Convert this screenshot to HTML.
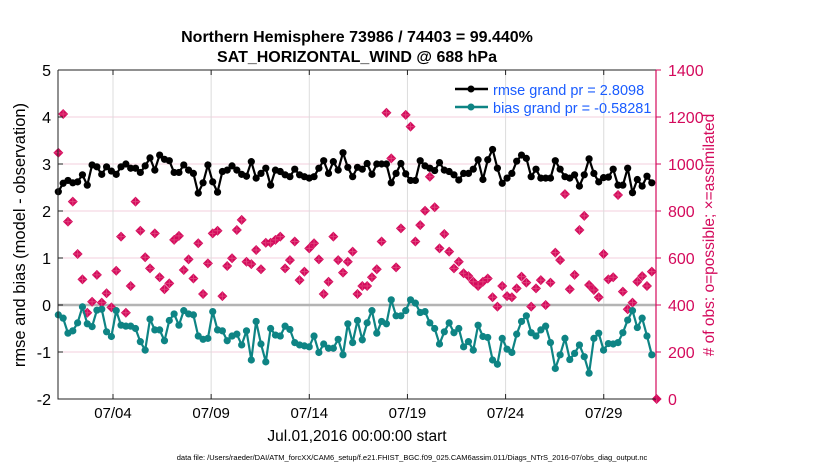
<!DOCTYPE html>
<html><head><meta charset="utf-8"><style>
body{margin:0;background:#fff;}
svg text{font-family:"Liberation Sans",Arial,sans-serif;}
</style></head><body>
<svg id="chart" width="830" height="470" xmlns="http://www.w3.org/2000/svg">
<text x="357" y="42" text-anchor="middle" font-size="16" font-weight="bold">Northern Hemisphere 73986 / 74403 = 99.440%</text>
<text x="357" y="62" text-anchor="middle" font-size="16" font-weight="bold">SAT_HORIZONTAL_WIND @ 688 hPa</text>
<g id="grid"></g>
<g id="marks"></g>
<g id="axes"></g>
<text transform="translate(25,235) rotate(-90)" text-anchor="middle" font-size="16.5">rmse and bias (model - observation)</text>
<text transform="translate(714,235) rotate(-90)" text-anchor="middle" font-size="15.5" fill="#d40a5c"># of obs: o=possible; ×=assimilated</text>
<text x="357" y="441" text-anchor="middle" font-size="15.5">Jul.01,2016 00:00:00 start</text>
<text x="412" y="460" text-anchor="middle" font-size="7.5">data file: /Users/raeder/DAI/ATM_forcXX/CAM6_setup/f.e21.FHIST_BGC.f09_025.CAM6assim.011/Diags_NTrS_2016-07/obs_diag_output.nc</text>
<g>
<line x1="455" y1="89" x2="488" y2="89" stroke="#000" stroke-width="2.5"/><circle cx="471" cy="89" r="3.5" fill="#000"/>
<text x="493" y="95" font-size="14.5" fill="#1a5cff">rmse grand pr = 2.8098</text>
<line x1="455" y1="107" x2="488" y2="107" stroke="#0e8484" stroke-width="2.5"/><circle cx="471" cy="107" r="3.5" fill="#0e8484"/>
<text x="493" y="113" font-size="14.5" fill="#1a5cff">bias grand pr = -0.58281</text>
</g>
</svg>
<script>
const rmse=[2.41,2.59,2.65,2.60,2.62,2.77,2.55,2.98,2.94,2.78,2.94,2.85,2.78,2.94,3.0,2.91,2.91,2.82,2.96,3.13,2.87,3.19,3.10,3.07,2.82,2.82,2.98,2.87,2.80,2.38,2.60,2.98,2.62,2.40,2.84,2.87,2.96,2.87,2.78,2.74,3.05,
2.70,2.80,2.91,2.55,2.87,2.84,2.77,2.73,2.89,2.77,2.73,2.70,2.73,2.91,3.07,2.80,3.05,2.87,3.24,2.93,2.73,2.93,2.89,3.01,2.78,3.0,3.0,3.0,2.60,2.80,3.01,2.79,2.65,2.65,3.07,2.96,2.91,2.86,3.03,2.87,2.84,2.77,2.66,2.80,
2.80,2.89,3.09,2.67,3.09,3.31,2.91,2.59,2.70,2.80,3.06,3.19,3.12,2.73,2.89,2.70,2.70,2.70,3.07,2.89,2.73,2.70,2.77,2.53,2.77,3.11,2.80,2.62,2.71,2.72,2.89,2.55,2.55,2.91,2.39,2.67,2.53,2.74,2.60];
const bias=[-0.21,-0.28,-0.60,-0.55,-0.38,-0.04,-0.40,-0.46,-0.11,-0.09,-0.57,-0.67,-0.12,-0.43,-0.45,-0.45,-0.50,-0.78,-0.96,-0.30,-0.53,-0.53,-0.76,-0.33,-0.19,-0.43,-0.12,-0.19,-0.21,-0.66,-0.73,-0.71,-0.14,-0.53,-0.55,-0.76,-0.66,-0.62,-0.85,-0.55,-1.17,
-0.35,-0.83,-1.21,-0.50,-0.64,-0.66,-0.45,-0.52,-0.80,-0.85,-0.87,-0.89,-0.66,-1.01,-0.83,-0.92,-0.92,-0.73,-1.06,-0.40,-0.80,-0.33,-0.74,-0.38,-0.12,-0.60,-0.35,-0.40,0.11,-0.23,-0.23,-0.12,0.11,0.04,-0.16,-0.14,-0.38,-0.50,-0.83,-0.57,-0.38,-0.59,-0.50,-0.89,
-0.78,-0.96,-0.43,-0.67,-0.69,-1.17,-1.26,-0.71,-0.94,-1.01,-0.62,-0.35,-0.23,-0.59,-0.66,-0.53,-0.45,-0.80,-1.35,-1.06,-0.71,-1.16,-1.03,-0.85,-1.10,-1.45,-0.71,-0.60,-0.96,-0.82,-0.83,-0.80,-0.59,-0.32,-0.12,-0.48,-0.28,-0.66,-1.06];
const nobs=[1048,1213,755,840,617,509,367,414,528,410,450,390,546,691,367,481,840,716,603,556,705,518,467,492,677,694,549,594,513,663,447,577,705,716,438,566,599,719,762,584,574,
634,552,665,665,677,691,556,591,670,506,542,641,663,594,447,499,691,591,538,584,627,447,481,481,518,552,670,1218,1024,560,726,1209,1159,670,740,801,946,816,641,702,627,556,584,535,
523,499,481,499,513,433,393,481,438,433,471,521,495,393,471,506,400,495,623,591,872,467,528,719,779,485,464,433,617,509,518,868,457,382,410,499,523,481,542,0];
const xTickDays=[3,8,13,18,23,28];
const xTickLabels=["07/04","07/09","07/14","07/19","07/24","07/29"];
const yTicks=[-2,-1,0,1,2,3,4,5];
const rTicks=[0,200,400,600,800,1000,1200,1400];
const T0=0.215, DT=0.2458;
const L=58,R=656,TOP=70,BOT=399;
const xs=d=>54.1+19.63*d;
const ys=v=>BOT-(v+2)/7*(BOT-TOP);
const yr=c=>BOT-c/1400*(BOT-TOP);
const NS="http://www.w3.org/2000/svg";
function mk(tag,attrs,parent){const e=document.createElementNS(NS,tag);for(const k in attrs)e.setAttribute(k,attrs[k]);parent.appendChild(e);return e;}
const grid=document.getElementById('grid'),marks=document.getElementById('marks'),axes=document.getElementById('axes');
yTicks.forEach(v=>{const l=mk('line',{x1:L,x2:R,y1:ys(v),y2:ys(v),stroke:'#f3cfdc','stroke-width':1},grid);


const t=mk('text',{x:L-7,y:ys(v)+6,'text-anchor':'end','font-size':16},axes);t.textContent=v;


mk('line',{x1:L,x2:L+5,y1:ys(v),y2:ys(v),stroke:'#222'},axes);});
xTickDays.forEach((d,i)=>{const l=mk('line',{x1:xs(d),x2:xs(d),y1:TOP,y2:BOT,stroke:'#dcdcdc','stroke-width':1},grid);


mk('line',{x1:xs(d),x2:xs(d),y1:BOT,y2:BOT-5,stroke:'#222'},axes);
mk('line',{x1:xs(d),x2:xs(d),y1:TOP,y2:TOP+5,stroke:'#222'},axes);
const t=mk('text',{x:xs(d),y:418,'text-anchor':'middle','font-size':15},axes);t.textContent=xTickLabels[i];

});
const z=mk('line',{x1:L,x2:R,y1:ys(0),y2:ys(0),stroke:'#b4b4b4','stroke-width':2.5},grid);


rTicks.forEach(c=>{mk('line',{x1:R,x2:R+5,y1:yr(c),y2:yr(c),stroke:'#d40a5c'},axes);
const t=mk('text',{x:R+12,y:yr(c)+6,'font-size':16,fill:'#d40a5c'},axes);t.textContent=c;

});
mk('path',{d:`M${L},${TOP}H${R}M${L},${TOP}V${BOT}H${R}`,fill:'none',stroke:'#222','stroke-width':1},axes);
mk('line',{x1:R,x2:R,y1:TOP,y2:BOT,stroke:'#d40a5c','stroke-width':1.2},axes);
nobs.forEach((c,i)=>{const x=xs(T0+i*DT),y=yr(c);
const g=mk('path',{d:`M${x},${y-5}L${x+5},${y}L${x},${y+5}L${x-5},${y}Z`,fill:'#d40a5c'},marks);


mk('path',{d:`M${x-4},${y}H${x+4}M${x},${y-4}V${y+4}`,stroke:'#e0407a','stroke-width':1},marks);});
function series(vals,color,name){
const pts=vals.map((v,i)=>xs(T0+i*DT).toFixed(1)+','+ys(v).toFixed(1)).join(' ');
const pl=mk('polyline',{points:pts,fill:'none',stroke:color,'stroke-width':2.2},marks);


vals.forEach((v,i)=>{const c=mk('circle',{cx:xs(T0+i*DT),cy:ys(v),r:3.6,fill:color},marks);

});}
series(rmse,'#000','rmse');
series(bias,'#0e8484','bias');
</script>
</body></html>
